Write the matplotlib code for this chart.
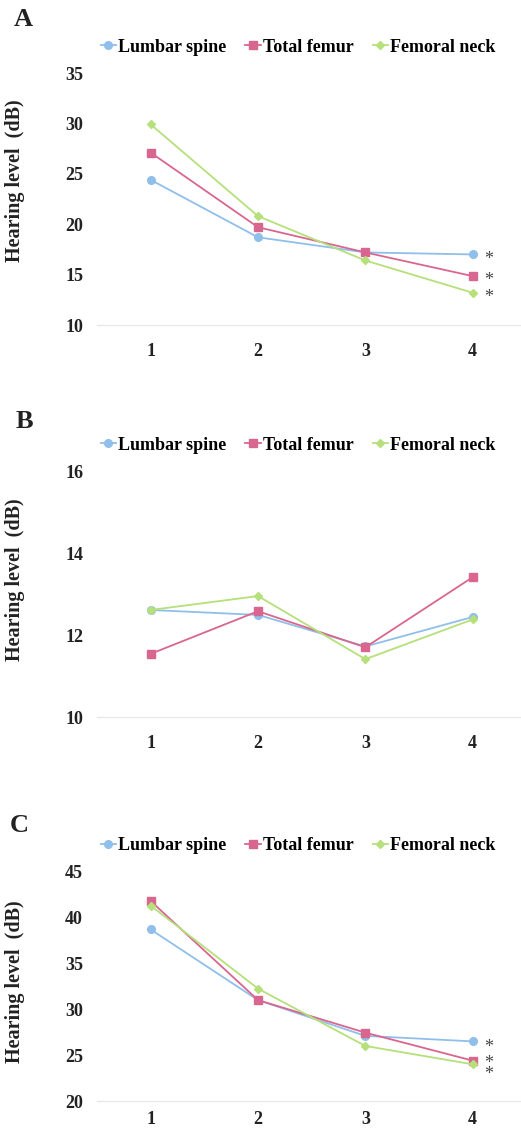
import matplotlib
matplotlib.use("Agg")
import matplotlib.pyplot as plt

plt.rcParams['font.family'] = ['Liberation Serif', 'DejaVu Serif']
plt.rcParams['font.weight'] = 'bold'

categories = [1, 2, 3, 4]
series_names = ["Lumbar spine", "Total femur", "Femoral neck"]

A_lumbar = [24.4, 18.7, 17.2, 17.0]
A_femur = [27.1, 19.7, 17.2, 14.85]
A_neck = [29.9, 20.8, 16.4, 13.2]

B_lumbar = [12.61, 12.49, 11.72, 12.44]
B_femur = [11.54, 12.58, 11.70, 13.41]
B_neck = [12.61, 12.95, 11.41, 12.38]

C_lumbar = [38.7, 31.0, 27.1, 26.5]
C_femur = [41.8, 31.0, 27.45, 24.4]
C_neck = [41.3, 32.25, 26.0, 24.0]

A_ticks = [10, 15, 20, 25, 30, 35]
B_ticks = [10, 12, 14, 16]
C_ticks = [20, 25, 30, 35, 40, 45]

A_stars = ["*", "*", "*"]
B_stars = ["", "", ""]
C_stars = ["*", "*", "*"]

colors = ["#8FBFEA", "#D8668F", "#B5E07A"]
markers = ["o", "s", "D"]
msizes = [5.5, 5.5, 4.0]

W, H = 521, 1131
fig = plt.figure(figsize=(W / 100, H / 100), dpi=100)

# letter, data, ticks, stars, ytop, ybot, letter y, legend y, letter x, star offsets, ylabel y, xtick pad
panels = [
    ("A", [A_lumbar, A_femur, A_neck], A_ticks, A_stars, 73, 325, 20, 47, 14, [0, 0, 0], 0.571, 13),
    ("B", [B_lumbar, B_femur, B_neck], B_ticks, B_stars, 471, 717, 422, 445, 16, [0, 0, 0], 0.557, 13),
    ("C", [C_lumbar, C_femur, C_neck], C_ticks, C_stars, 871.7, 1101, 825, 846, 10, [-1, 1.5, -4], 0.519, 7),
]

left = 97 / W
for letter, data, ticks, stars, ytop, ybot, ylet, yleg, xlet, star_off, ylab, xpad in panels:
    ax = fig.add_axes([left, 1 - ybot / H, 1 - left, (ybot - ytop) / H])
    handles = []
    for vals, name, c, m, ms in zip(data, series_names, colors, markers, msizes):
        h, = ax.plot(categories, vals, color=c, marker=m, markersize=ms, lw=1.3,
                     markeredgecolor=c, label=name)
        handles.append(h)
    for vals, s, off in zip(data, stars, star_off):
        if s:
            ax.annotate(s, (categories[-1], vals[-1]), xytext=(11.5, off - 3.5),
                        textcoords="offset points", ha="center", va="center",
                        fontsize=13, color="#444444", fontweight="normal")
    ax.set_xlim(0.5, 4.45)
    ax.set_ylim(ticks[0], ticks[-1])
    ax.set_yticks(ticks)
    ax.set_xticks(categories)
    ax.set_xticklabels([str(c) for c in categories])
    for sp in ["top", "right", "left"]:
        ax.spines[sp].set_visible(False)
    ax.spines["bottom"].set_color("#E8E8E8")
    ax.spines["bottom"].set_linewidth(1.0)
    ax.tick_params(axis="both", length=0, labelsize=13, colors="#222222")
    ax.tick_params(axis="y", pad=10)
    ax.tick_params(axis="x", pad=xpad)
    ax.set_ylabel("Hearing level  (dB)", fontsize=14.5, fontweight="bold",
                  color="#222222")
    ax.yaxis.set_label_coords(-(97 - 25) / (W - 97), ylab)
    for lab in ax.get_xticklabels() + ax.get_yticklabels():
        lab.set_fontweight("bold")
    fig.text(xlet / W, 1 - ylet / H, letter, fontsize=19, fontweight="bold",
             color="#222222", va="center", ha="left")
    fig.legend(handles=handles, loc="center", bbox_to_anchor=(298 / W, 1 - yleg / H),
               ncol=3, frameon=False, handlelength=0.85,
               handletextpad=0.12, columnspacing=1.05, borderaxespad=0,
               prop={"weight": "bold", "size": 13})

fig.savefig("out.png", dpi=100)
